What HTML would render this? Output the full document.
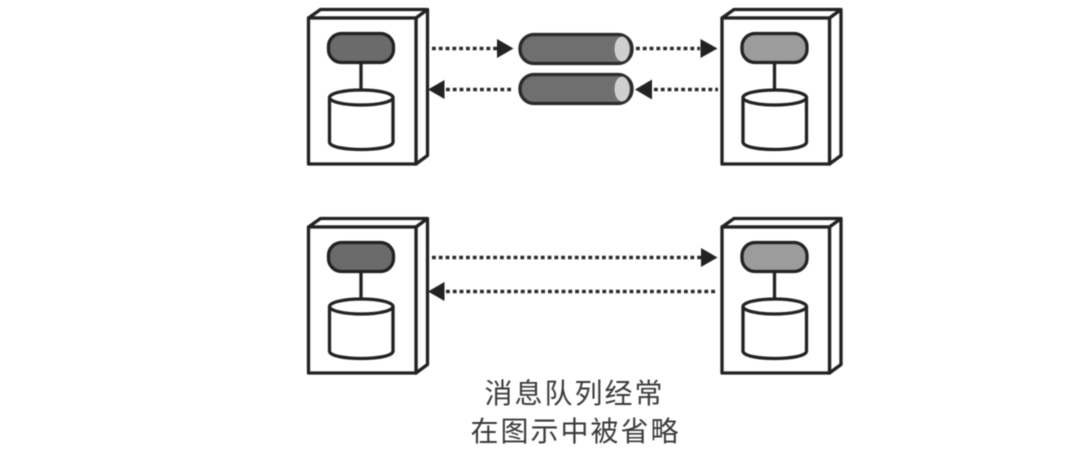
<!DOCTYPE html>
<html>
<head>
<meta charset="utf-8">
<style>
html,body{margin:0;padding:0;background:#fff;}
body{width:1080px;height:458px;overflow:hidden;}
svg{display:block;filter:blur(0.45px);}
text{font-family:"Liberation Sans","Noto Sans CJK SC",sans-serif;font-size:28px;letter-spacing:2px;fill:#3a3a3a;text-anchor:middle;}
</style>
</head>
<body>
<svg width="1080" height="458" viewBox="0 0 1080 458" xmlns="http://www.w3.org/2000/svg">
<defs>
<g id="srv" fill="#fff" stroke="#222" stroke-width="3.300" stroke-linejoin="round">
<path d="M308.500 18 L320.500 9.500 H427.500 V155.500 L416 164 V18 Z"/>
<path d="M416 18 L427.500 9.500" fill="none"/>
<rect x="308.500" y="18" width="107.500" height="146"/>
<line x1="361" y1="62" x2="361" y2="91"/>
<path d="M329.500 97.500 V142 C329.500 152 393 152 393 142 V97.500"/>
<ellipse cx="361.250" cy="97.500" rx="31.750" ry="7.500"/>
</g>
<g id="q">
<rect x="520" y="34.500" width="112" height="29" rx="14" fill="#6f6f6f" stroke="#2a2a2a" stroke-width="3.300"/>
<ellipse cx="622" cy="49" rx="7.500" ry="12.500" fill="#cfcfcf"/>
</g>
</defs>

<use href="#srv"/>
<use href="#srv" x="413.500"/>
<use href="#srv" y="209"/>
<use href="#srv" x="413.500" y="209"/>

<g stroke="#222" stroke-width="3.300">
<rect x="328.500" y="33.500" width="65" height="29" rx="13" fill="#6b6b6b"/>
<rect x="742" y="33.500" width="65" height="29" rx="13" fill="#9c9c9c"/>
<rect x="328.500" y="242.500" width="65" height="29" rx="13" fill="#6b6b6b"/>
<rect x="742" y="242.500" width="65" height="29" rx="13" fill="#9c9c9c"/>
</g>

<use href="#q"/>
<use href="#q" y="40"/>

<g stroke="#2a2a2a" stroke-width="3.500" stroke-dasharray="3.800 3" fill="none">
<line x1="432" y1="48.500" x2="497" y2="48.500"/>
<line x1="446" y1="89.500" x2="514" y2="89.500"/>
<line x1="636" y1="48.500" x2="700" y2="48.500"/>
<line x1="654" y1="89.500" x2="718" y2="89.500"/>
<line x1="432" y1="257.500" x2="701" y2="257.500"/>
<line x1="446" y1="291.500" x2="718" y2="291.500"/>
</g>
<g fill="#222">
<path d="M497 39 L513.500 48.500 L497 58 Z"/>
<path d="M444.500 80 L428 89.500 L444.500 99 Z"/>
<path d="M700.500 39 L717.500 48.500 L700.500 58 Z"/>
<path d="M652 79.500 L635 89.500 L652 99.500 Z"/>
<path d="M701 248 L717.500 257.500 L701 267 Z"/>
<path d="M444.500 282 L428 291.500 L444.500 301 Z"/>
</g>

<text x="574.500" y="403">消息队列经常</text>
<text x="575.500" y="441">在图示中被省略</text>
</svg>
</body>
</html>
